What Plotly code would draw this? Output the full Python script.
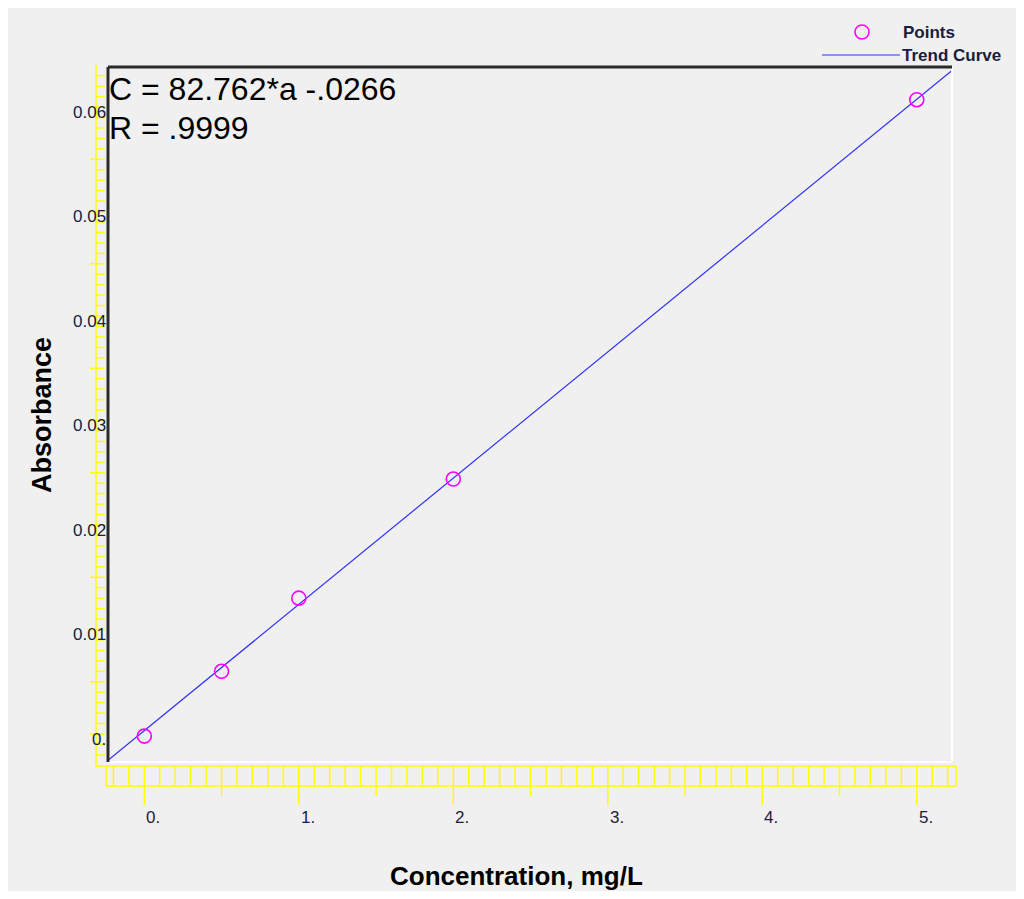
import plotly.graph_objects as go

# ---------------- data ----------------
conc = [0.0, 0.5, 1.0, 2.0, 5.0]
absorb = [-0.0002, 0.0060, 0.0130, 0.0244, 0.0607]
slope_c = 82.762      # C = slope_c * a + intercept_c
intercept_c = -0.0266
r_value = ".9999"
x_tick_vals = [0, 1, 2, 3, 4, 5]
x_tick_text = ["0.", "1.", "2.", "3.", "4.", "5."]
y_tick_vals = [0.0, 0.01, 0.02, 0.03, 0.04, 0.05, 0.06]
y_tick_text = ["0.", "0.01", "0.02", "0.03", "0.04", "0.05", "0.06"]

# ---------------- layout geometry (screen pixels) ----------------
OX, OY = 8, 8                 # page offset of the figure
W, H = 1008, 883
L, R, T, B = 108, 952, 67, 762
PW, PH = R - L, B - T
x_range = [-0.235, 5.228]
y_range = [-0.00268, 0.06383]

def px(xp):
    return (xp - L) / PW

def py(yp):
    return (B - yp) / PH

YEL = "#ffff00"
TXT = "#1c1c3c"
FONT = "Liberation Sans, Arial, sans-serif"

# trend line from fit, across the whole axis range
tx = x_range
ty = [(c - intercept_c) / slope_c for c in tx]

fig = go.Figure()
fig.add_trace(go.Scatter(x=tx, y=ty, mode="lines",
                         line=dict(color="#2f2fff", width=1.2),
                         showlegend=False, hoverinfo="skip"))
fig.add_trace(go.Scatter(x=conc, y=absorb, mode="markers",
                         marker=dict(symbol="circle-open", size=14, color="#ff00ff",
                                     line=dict(width=1.6, color="#ff00ff")),
                         showlegend=False))

shapes = []
def line(x0, y0, x1, y1, xref="paper", yref="paper", color=YEL, width=1.5, layer="above"):
    shapes.append(dict(type="line", x0=x0, y0=y0, x1=x1, y1=y1, xref=xref, yref=yref,
                       line=dict(color=color, width=width), layer=layer))

# ---- x ruler ----
line(px(96), py(766), px(956), py(766))
line(px(106), py(786), px(956), py(786))
line(px(106), py(766), px(106), py(786))
line(px(956), py(766), px(956), py(786))
for k in range(-2, 53):
    xv = k / 10
    line(xv, py(766), xv, py(786), xref="x")
for k in range(0, 11):
    xv = k / 2
    yb = 805 if k % 2 == 0 else 796
    line(xv, py(786), xv, py(yb), xref="x")

# ---- y ruler ----
line(px(96), py(65), px(96), py(766))
for k in range(-2, 64):
    yv = k / 1000
    xl = 90 if k % 5 == 0 else 96
    line(px(xl), yv, px(105), yv, yref="y")

# ---- frame ----
line(0, 0, 1, 0, color="#ffffff", width=2)
line(1, 0, 1, 1, color="#ffffff", width=2)
line(0, 0, 0, 1, color="#2a2a2a", width=3)
line(0, 1, 1, 1, color="#2a2a2a", width=3)

# ---- legend ----
shapes.append(dict(type="circle", xref="paper", yref="paper",
                   x0=px(855), x1=px(869), y0=py(25), y1=py(39),
                   line=dict(color="#ff00ff", width=1.6)))
line(px(822), py(55), px(900), py(55), color="#2f2fff", width=1.2)

annotations = []
for v, t in zip(x_tick_vals, x_tick_text):
    annotations.append(dict(x=v, y=py(817), xref="x", yref="paper", text=t,
                            showarrow=False, xanchor="left", yanchor="middle",
                            font=dict(family=FONT, size=17, color=TXT)))
for v, t in zip(y_tick_vals, y_tick_text):
    annotations.append(dict(x=px(108), y=v, xref="paper", yref="y", text=t,
                            showarrow=False, xanchor="right", yanchor="middle", yshift=-5,
                            font=dict(family=FONT, size=17, color=TXT)))

annotations += [
    dict(x=px(107), y=py(89), xref="paper", yref="paper",
         text=f"C = {slope_c}*a -{str(abs(intercept_c)).lstrip('0')}",
         showarrow=False, xanchor="left", yanchor="middle",
         font=dict(family=FONT, size=32, color="#000000")),
    dict(x=px(107), y=py(128), xref="paper", yref="paper", text=f"R = {r_value}",
         showarrow=False, xanchor="left", yanchor="middle",
         font=dict(family=FONT, size=32, color="#000000")),
    dict(x=px(901), y=py(33), xref="paper", yref="paper", text="<b>Points</b>",
         showarrow=False, xanchor="left", yanchor="middle",
         font=dict(family=FONT, size=17, color=TXT)),
    dict(x=px(900), y=py(55), xref="paper", yref="paper", text="<b>Trend Curve</b>",
         showarrow=False, xanchor="left", yanchor="middle",
         font=dict(family=FONT, size=17, color=TXT)),
    dict(x=px(42), y=py(415), xref="paper", yref="paper", text="<b>Absorbance</b>",
         showarrow=False, textangle=-90, xanchor="center", yanchor="middle",
         font=dict(family=FONT, size=27, color="#000000")),
    dict(x=px(516), y=py(876), xref="paper", yref="paper", text="<b>Concentration, mg/L</b>",
         showarrow=False, xanchor="center", yanchor="middle",
         font=dict(family=FONT, size=26, color="#000000")),
]

fig.update_layout(
    width=W, height=H,
    margin=dict(l=L - OX, r=(OX + W) - R, t=T - OY, b=(OY + H) - B, pad=0),
    paper_bgcolor="#f0f0f0", plot_bgcolor="#f0f0f0",
    xaxis=dict(range=x_range, showgrid=False, zeroline=False, showticklabels=False,
               ticks="", showline=False, fixedrange=True),
    yaxis=dict(range=y_range, showgrid=False, zeroline=False, showticklabels=False,
               ticks="", showline=False, fixedrange=True),
    shapes=shapes, annotations=annotations, showlegend=False,
)

fig.write_html("out.html")
